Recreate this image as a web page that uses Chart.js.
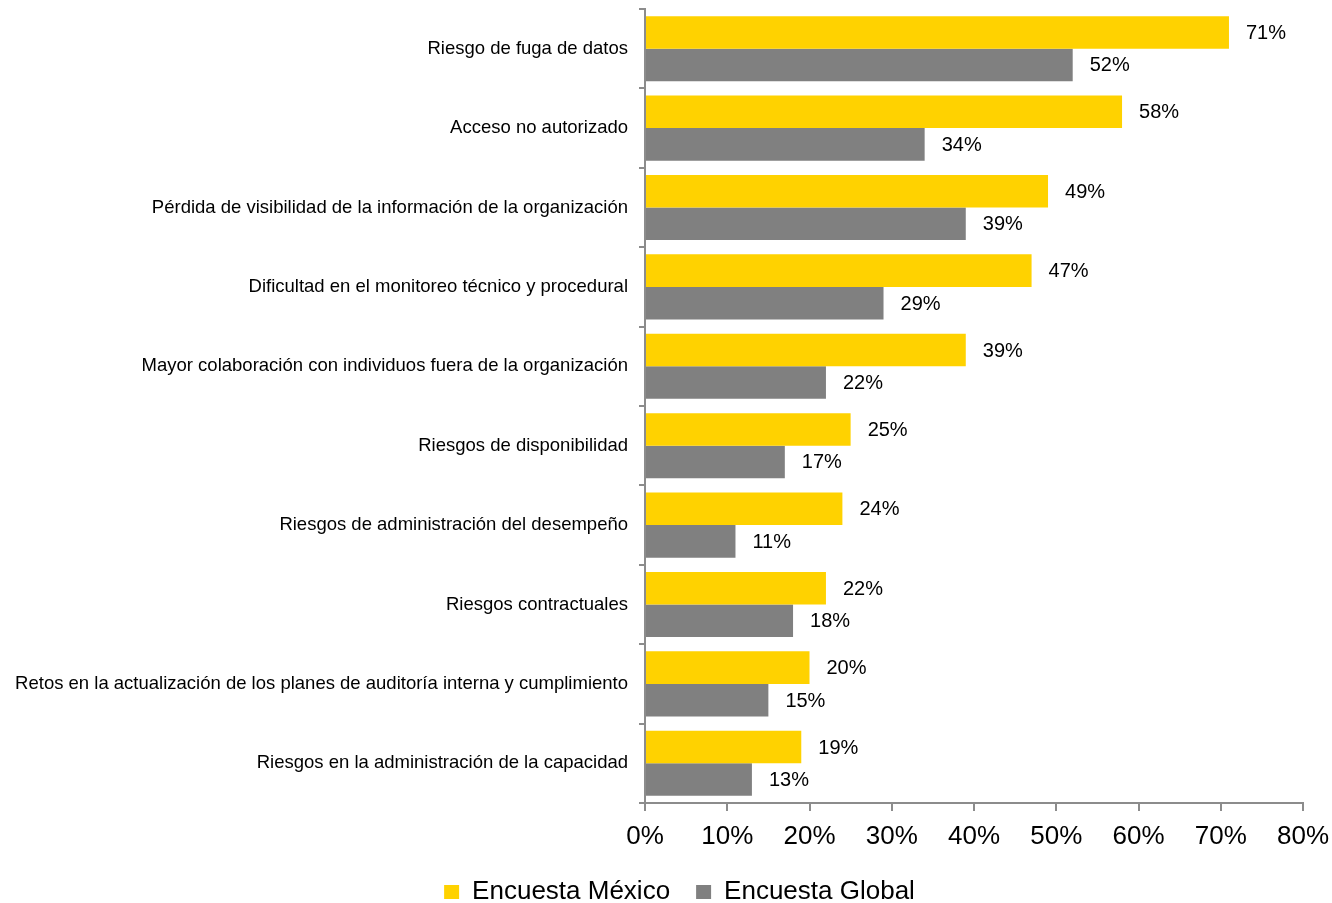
<!DOCTYPE html>
<html>
<head>
<meta charset="utf-8">
<script src="https://cdn.jsdelivr.net/npm/chart.js@4/dist/chart.umd.min.js"></script>
<style>
  html, body { margin: 0; padding: 0; background: #fff; overflow: hidden; }
  #wrap { position: relative; width: 1332px; height: 915px; }
</style>
</head>
<body>
<div id="wrap"><canvas id="chartRiesgos"></canvas></div>
<script>
// categorías y resultados (porcentaje de respuestas)
const categorias = [
  "Riesgo de fuga de datos",
  "Acceso no autorizado",
  "Pérdida de visibilidad de la información de la organización",
  "Dificultad en el monitoreo técnico y procedural",
  "Mayor colaboración con individuos fuera de la organización",
  "Riesgos de disponibilidad",
  "Riesgos de administración del desempeño",
  "Riesgos contractuales",
  "Retos en la actualización de los planes de auditoría interna y cumplimiento",
  "Riesgos en la administración de la capacidad"
];
const encuestaMexico = [71, 58, 49, 47, 39, 25, 24, 22, 20, 19];
const encuestaGlobal = [52, 34, 39, 29, 22, 17, 11, 18, 15, 13];
const ticksX = [0, 10, 20, 30, 40, 50, 60, 70, 80];

const FONT = "Arial, 'Liberation Sans', sans-serif";
const GRIS_EJE = "#8c8c8c";

// etiquetas de valor a la derecha de cada barra
const etiquetasValor = {
  id: "etiquetasValor",
  afterDatasetsDraw(chart) {
    const ctx = chart.ctx;
    ctx.save();
    ctx.font = "20px " + FONT;
    ctx.fillStyle = "#000";
    ctx.textBaseline = "middle";
    ctx.textAlign = "left";
    chart.data.datasets.forEach((ds, i) => {
      chart.getDatasetMeta(i).data.forEach((bar, j) => {
        ctx.fillText(ds.data[j] + "%", bar.x + 17, bar.y + 1);
      });
    });
    ctx.restore();
  }
};

// la leyenda va un poco a la derecha del centro del lienzo
const moverLeyenda = {
  id: "moverLeyenda",
  afterLayout(chart) {
    const lg = chart.legend;
    if (!lg) return;
    lg.left += 28;
    lg.right += 28;
  }
};

const ctx = document.getElementById("chartRiesgos").getContext("2d");
new Chart(ctx, {
  type: "bar",
  data: {
    labels: categorias,
    datasets: [
      { label: "Encuesta México", data: encuestaMexico, backgroundColor: "#FFD200" },
      { label: "Encuesta Global", data: encuestaGlobal, backgroundColor: "#808080" }
    ]
  },
  options: {
    indexAxis: "y",
    responsive: true,
    maintainAspectRatio: false,
    animation: false,
    layout: { padding: { top: 9, right: 29, left: 0, bottom: 0 } },
    datasets: { bar: { categoryPercentage: 0.82, barPercentage: 1.0 } },
    scales: {
      x: {
        min: 0,
        max: 80,
        afterBuildTicks: (scale) => { scale.ticks = ticksX.map(v => ({ value: v })); },
        afterFit: (scale) => {
          scale.height = 50;
          scale.paddingLeft = 0;
          scale.paddingRight = 0;
        },
        border: { color: GRIS_EJE, width: 2 },
        grid: { drawOnChartArea: false, drawTicks: true, tickLength: 8, color: GRIS_EJE, lineWidth: 2 },
        ticks: {
          font: { size: 26, family: FONT },
          color: "#000",
          padding: 10,
          maxRotation: 0,
          callback: (v) => v + "%"
        }
      },
      y: {
        // ancho fijo del eje para que el área de barras empiece en x = 645
        afterFit: (scale) => {
          scale.width = 645;
          scale.paddingTop = 0;
          scale.paddingBottom = 0;
        },
        border: { color: GRIS_EJE, width: 2 },
        grid: { drawOnChartArea: false, drawTicks: true, tickLength: 6, color: GRIS_EJE, lineWidth: 2, offset: true },
        ticks: {
          font: { size: 18.5, family: FONT },
          color: "#000",
          padding: 11,
          autoSkip: false
        }
      }
    },
    plugins: {
      legend: {
        position: "bottom",
        labels: {
          boxWidth: 15,
          boxHeight: 14,
          padding: 26,
          color: "#000",
          font: { size: 26, family: FONT }
        }
      },
      tooltip: { enabled: false }
    }
  },
  plugins: [etiquetasValor, moverLeyenda]
});
</script>
</body>
</html>
